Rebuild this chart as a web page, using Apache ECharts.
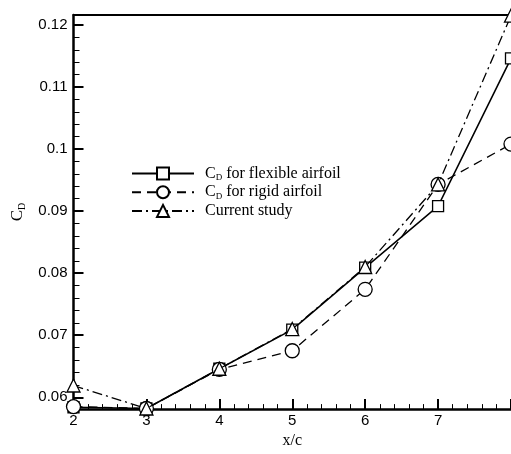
<!DOCTYPE html>
<html><head><meta charset="utf-8">
<script src="https://cdn.jsdelivr.net/npm/echarts@6/dist/echarts.min.js"></script>
<style>html,body{margin:0;padding:0;background:#fff}#c{width:511px;height:454px}</style>
</head><body><div id="c"></div>
<script>
var xValues = [2, 3, 4, 5, 6, 7, 8];
var flexible = [0.0584, 0.0582, 0.0646, 0.0709, 0.0809, 0.0908, 0.1146];
var rigid = [0.0585, 0.0582, 0.0645, 0.0675, 0.0774, 0.0943, 0.1008];
var current = [0.0619, 0.0582, 0.0646, 0.0710, 0.0810, 0.0943, 0.1215];
var yMajorTicks = [0.06, 0.07, 0.08, 0.09, 0.10, 0.11, 0.12];
var yMinorTicks = [0.06,0.062,0.064,0.066,0.068,0.07,0.072,0.074,0.076,0.078,0.08,0.082,0.084,0.086,0.088,0.09,0.092,0.094,0.096,0.098,0.10,0.102,0.104,0.106,0.108,0.11,0.112,0.114,0.116,0.118,0.12];
var seriesNames = ['CD for flexible airfoil', 'CD for rigid airfoil', 'Current study'];
var legendLabels = {
  'CD for flexible airfoil': '{p|}{c|C}{d|D}{t| for flexible airfoil}',
  'CD for rigid airfoil': '{p|}{c|C}{d|D}{t| for rigid airfoil}',
  'Current study': '{p|}{t|Current study}'
};
var Y_MIN = 0.0581, Y_MAX = 0.1216;

function pairs(ys) { return xValues.map(function (x, i) { return [x, ys[i]]; }); }

var chart = echarts.init(document.getElementById('c'), null, {renderer: 'canvas'});
var serif = '"Liberation Serif", "Times New Roman", serif';
var sans = '"Liberation Sans", Arial, sans-serif';
var mk = {color: '#fff', borderColor: '#000', borderWidth: 1.3};
chart.setOption({
  animation: false,
  backgroundColor: '#fff',
  grid: {left: 73.5, top: 15, width: 440.5, bottom: 38},
  legend: {
    orient: 'vertical', left: 126, top: 160.5,
    itemWidth: 62, itemHeight: 15, itemGap: 1.7,
    data: seriesNames,
    formatter: function (n) { return legendLabels[n]; },
    textStyle: {
      color: '#000', fontFamily: serif, fontSize: 16,
      rich: {
        p: {width: 6},
        c: {fontFamily: serif, fontSize: 16, lineHeight: 18, color: '#000'},
        d: {fontFamily: serif, fontSize: 9, lineHeight: 9, verticalAlign: 'bottom', color: '#000'},
        t: {fontFamily: serif, fontSize: 16, lineHeight: 18, color: '#000'}
      }
    }
  },
  xAxis: [{
    type: 'value', min: 2, max: 8, interval: 1, position: 'bottom',
    name: 'x/c', nameLocation: 'middle', nameGap: 22,
    nameTextStyle: {fontFamily: serif, fontSize: 16, color: '#000'},
    axisLine: {lineStyle: {color: '#000', width: 2.5}},
    axisTick: {inside: true, length: 10, lineStyle: {color: '#000', width: 2}},
    minorTick: {show: true, splitNumber: 5, length: 5, lineStyle: {color: '#000', width: 1}},
    axisLabel: {fontFamily: sans, fontSize: 15, color: '#000', margin: 4, showMaxLabel: false},
    splitLine: {show: false}
  }, {
    type: 'value', min: 2, max: 8, position: 'top',
    axisLine: {lineStyle: {color: '#000', width: 2}},
    axisTick: {show: false}, axisLabel: {show: false}, splitLine: {show: false}
  }],
  yAxis: [{
    type: 'value', min: Y_MIN, max: Y_MAX, position: 'left',
    name: '{c|C}{d|D}', nameLocation: 'middle', nameGap: 40, nameRotate: 90,
    nameTextStyle: {
      color: '#000',
      rich: {
        c: {fontFamily: serif, fontSize: 17, lineHeight: 20, color: '#000'},
        d: {fontFamily: serif, fontSize: 10, lineHeight: 10, verticalAlign: 'bottom', color: '#000'}
      }
    },
    axisLine: {lineStyle: {color: '#000', width: 2.5}},
    axisTick: {inside: true, length: 10, customValues: yMajorTicks, lineStyle: {color: '#000', width: 2}},
    axisLabel: {
      fontFamily: sans, fontSize: 15, color: '#000', margin: 6, customValues: yMajorTicks,
      formatter: function (v) { return String(parseFloat(v.toFixed(3))); }
    },
    splitLine: {show: false}
  }, {
    type: 'value', min: Y_MIN, max: Y_MAX, position: 'left',
    axisLine: {show: false},
    axisTick: {inside: true, length: 6, customValues: yMinorTicks, lineStyle: {color: '#000', width: 1}},
    axisLabel: {show: false}, splitLine: {show: false}
  }],
  series: [{
    name: seriesNames[0], type: 'line', data: pairs(flexible),
    symbol: 'rect', symbolSize: 11, showAllSymbol: true,
    lineStyle: {color: '#000', width: 1.5, type: 'solid'},
    itemStyle: mk, z: 3
  }, {
    name: seriesNames[1], type: 'line', data: pairs(rigid),
    symbol: 'circle', symbolSize: 14, showAllSymbol: true,
    lineStyle: {color: '#000', width: 1.3, type: [9, 6]},
    itemStyle: mk, z: 4
  }, {
    name: seriesNames[2], type: 'line', data: pairs(current),
    symbol: 'triangle', symbolSize: 13, showAllSymbol: true,
    lineStyle: {color: '#000', width: 1.3, type: [10, 4, 2, 4]},
    itemStyle: mk, z: 5
  }]
});
</script>
</body></html>
